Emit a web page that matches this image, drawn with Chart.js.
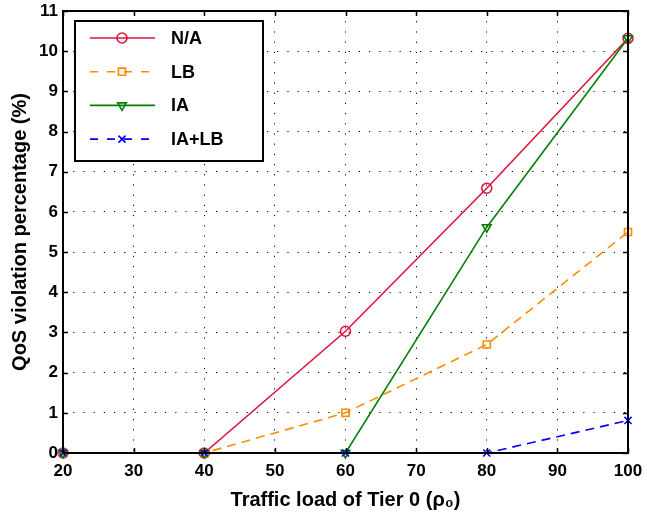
<!DOCTYPE html>
<html>
<head>
<meta charset="utf-8">
<script src="https://cdn.jsdelivr.net/npm/chart.js@4/dist/chart.umd.min.js"></script>
<style>
  html, body { margin: 0; padding: 0; background: #fff; }
  #wrap { width: 647px; height: 515px; }
</style>
</head>
<body>
<div id="wrap"><canvas id="qos"></canvas></div>
<script>
// ---- data ----
const loads = [20, 40, 60, 80, 100];
const naVals = [0, 0, 3.03, 6.59, 10.32];
const lbVals = [0, 0, 1.0, 2.7, 5.5];
const iaVals = [0, 0, 0, 5.62, 10.32];
const ialbVals = [0, 0, 0, 0, 0.81];
const seriesNames = ["N/A", "LB", "IA", "IA+LB"];
const xTicks = [20, 30, 40, 50, 60, 70, 80, 90, 100];
const yTicks = [0, 1, 2, 3, 4, 5, 6, 7, 8, 9, 10, 11];

const FONT = "'Liberation Sans', Arial, sans-serif";

function pts(vals) {
  return loads.map((x, i) => ({ x: x, y: vals[i] }));
}

const styles = [
  { color: "#dc143c", dash: [], marker: "circle", radius: 5 },
  { color: "#ff8c00", dash: [9, 6], marker: "rect", radius: 5 },
  { color: "#008000", dash: [], marker: "triangle", radius: 5, rot: 180 },
  { color: "#0000ff", dash: [9, 6], marker: "crossRot", radius: 5 },
];
const allVals = [naVals, lbVals, iaVals, ialbVals];

const datasets = allVals.map((v, i) => ({
  label: seriesNames[i],
  data: pts(v),
  borderColor: styles[i].color,
  borderWidth: 1.6,
  borderDash: styles[i].dash,
  pointStyle: styles[i].marker,
  pointRotation: styles[i].rot || 0,
  pointRadius: styles[i].radius,
  pointBorderColor: styles[i].color,
  pointBorderWidth: 1.6,
  pointBackgroundColor: "rgba(0,0,0,0)",
  tension: 0,
  fill: false,
  clip: false,
  order: 3 - i,
}));

/* ---------- box, inward ticks and legend ---------- */
const framePlugin = {
  id: "frame",
  afterDraw(chart) {
    const ctx = chart.ctx;
    const a = chart.chartArea;
    const xs = chart.scales.x, ys = chart.scales.y;
    ctx.save();
    ctx.strokeStyle = "#000";
    ctx.lineWidth = 1.5;
    ctx.setLineDash([]);
    xTicks.forEach((t) => {
      const px = Math.round(xs.getPixelForValue(t)) + 0.5;
      ctx.beginPath();
      ctx.moveTo(px, a.bottom); ctx.lineTo(px, a.bottom - 5);
      ctx.moveTo(px, a.top); ctx.lineTo(px, a.top + 5);
      ctx.stroke();
    });
    yTicks.forEach((t) => {
      const py = Math.round(ys.getPixelForValue(t)) + 0.5;
      ctx.beginPath();
      ctx.moveTo(a.left, py); ctx.lineTo(a.left + 5, py);
      ctx.moveTo(a.right, py); ctx.lineTo(a.right - 5, py);
      ctx.stroke();
    });
    ctx.lineWidth = 2;
    ctx.strokeRect(a.left, a.top, a.right - a.left, a.bottom - a.top);

    // legend box
    const lx = a.left + 12, ly = a.top + 10, lw = 188, lh = 140;
    ctx.fillStyle = "#fff";
    ctx.fillRect(lx, ly, lw, lh);
    ctx.lineWidth = 2;
    ctx.strokeRect(lx, ly, lw, lh);
    ctx.font = "bold 18px " + FONT;
    ctx.textBaseline = "middle";
    seriesNames.forEach((name, i) => {
      const yy = ly + 17 + i * 33.7;
      const st = styles[i];
      ctx.strokeStyle = st.color;
      ctx.lineWidth = 1.6;
      ctx.setLineDash(st.dash.length ? [8, 9] : []);
      ctx.beginPath();
      ctx.moveTo(lx + 15, yy); ctx.lineTo(lx + 80, yy);
      ctx.stroke();
      ctx.setLineDash([]);
      ctx.fillStyle = "rgba(0,0,0,0)";
      Chart.helpers.drawPoint(ctx, {
        pointStyle: st.marker,
        rotation: st.rot || 0,
        radius: st.radius,
        borderWidth: 1.6,
      }, lx + 47, yy);
      ctx.fillStyle = "#000";
      ctx.fillText(name, lx + 96, yy + 1);
    });
    ctx.restore();
  },
};

const tickFont = { family: FONT, size: 17, weight: "bold" };
const titleFont = { family: FONT, size: 20, weight: "bold" };

new Chart(document.getElementById("qos"), {
  type: "line",
  data: { datasets: datasets },
  options: {
    responsive: true,
    maintainAspectRatio: false,
    animation: false,
    layout: { padding: { top: 11, right: 19, left: 0, bottom: 0 } },
    plugins: { legend: { display: false }, tooltip: { enabled: false } },
    scales: {
      x: {
        type: "linear",
        min: 20,
        max: 100,
        afterBuildTicks: (s) => { s.ticks = xTicks.map((v) => ({ value: v })); },
        afterFit: (s) => {
          s.height = 62;
          s.paddingLeft = 0;
          s.paddingRight = 0;
        },
        ticks: { color: "#000", font: tickFont, padding: 8, maxRotation: 0 },
        grid: { color: "#000", lineWidth: 1, drawTicks: false },
        border: { display: false, dash: [1.2, 9] },
        title: {
          display: true,
          text: "Traffic load of Tier 0 (ρ₀)",
          color: "#000",
          font: titleFont,
          padding: { top: 0, bottom: 3 },
        },
      },
      y: {
        min: 0,
        max: 11,
        afterBuildTicks: (s) => { s.ticks = yTicks.map((v) => ({ value: v })); },
        afterFit: (s) => {
          s.width = 63;
          s.paddingTop = 0;
          s.paddingBottom = 0;
        },
        ticks: { color: "#000", font: tickFont, padding: 5 },
        grid: { color: "#000", lineWidth: 1, drawTicks: false },
        border: { display: false, dash: [1.2, 9] },
        title: {
          display: true,
          text: "QoS violation percentage (%)",
          color: "#000",
          font: titleFont,
          padding: { top: 8, bottom: 0 },
        },
      },
    },
  },
  plugins: [framePlugin],
});
</script>
</body>
</html>
